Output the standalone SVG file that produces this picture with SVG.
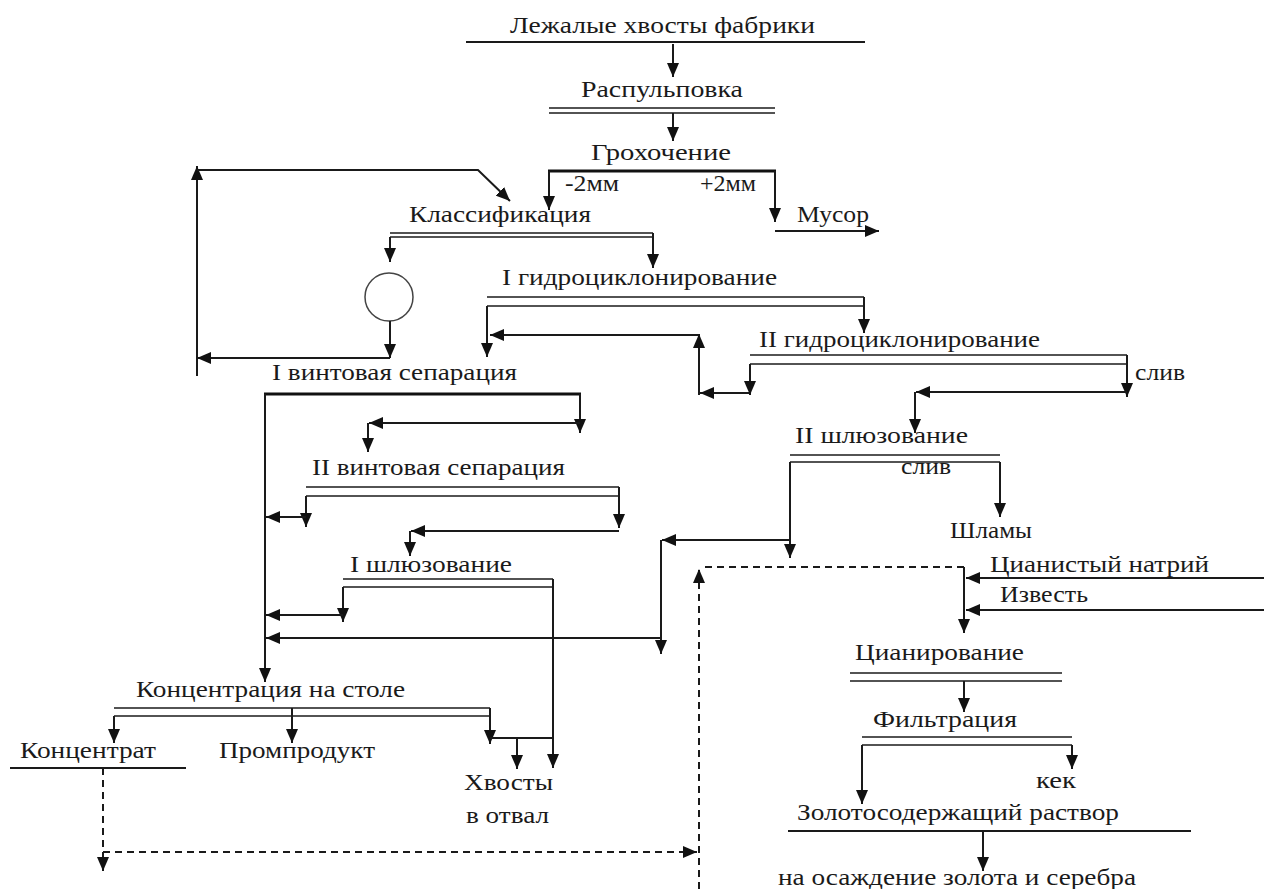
<svg xmlns="http://www.w3.org/2000/svg" width="1264" height="889" viewBox="0 0 1264 889">
  <style>
    text { font-family: "Liberation Serif", "DejaVu Serif", "Noto Serif", serif; font-size: 24px; fill: #1a1a1a; }
    .ln { fill: none; stroke: #1a1a1a; stroke-width: 2; }
    .thick { fill: none; stroke: #111; stroke-width: 3; }
    .dbl { fill: none; stroke: #1a1a1a; stroke-width: 1.6; }
    .dash { fill: none; stroke: #1a1a1a; stroke-width: 2; stroke-dasharray: 7 5; }
    .arr { marker-end: url(#head); }
  </style>
  <defs>
    <marker id="head" markerUnits="userSpaceOnUse" markerWidth="14" markerHeight="12" viewBox="0 0 14 12" refX="14" refY="6" orient="auto">
      <path d="M0,0 L14,6 L0,12 z" fill="#111"/>
    </marker>
  </defs>
  <rect width="1264" height="889" fill="#fff"/>

  <!-- process nodes: label plus its bar -->
  <g id="tailings">
    <text x="510" y="33" textLength="305" lengthAdjust="spacingAndGlyphs">Лежалые хвосты фабрики</text>
    <line class="ln" x1="466" y1="42" x2="865" y2="42"/>
  </g>
  <g id="repulping">
    <text x="581" y="97" textLength="162" lengthAdjust="spacingAndGlyphs">Распульповка</text>
    <line class="dbl" x1="549" y1="108" x2="775" y2="108"/>
    <line class="dbl" x1="549" y1="113" x2="775" y2="113"/>
  </g>
  <g id="screening">
    <text x="591" y="160" textLength="140" lengthAdjust="spacingAndGlyphs">Грохочение</text>
    <line class="thick" x1="548" y1="171" x2="776" y2="171"/>
    <text x="565" y="191" textLength="54" lengthAdjust="spacingAndGlyphs">-2мм</text>
    <text x="700" y="191" textLength="56" lengthAdjust="spacingAndGlyphs">+2мм</text>
  </g>
  <g id="trash">
    <text x="797" y="222" textLength="72" lengthAdjust="spacingAndGlyphs">Мусор</text>
  </g>
  <g id="classification">
    <text x="409" y="222" textLength="182" lengthAdjust="spacingAndGlyphs">Классификация</text>
    <line class="dbl" x1="390" y1="233" x2="653" y2="233"/>
    <line class="dbl" x1="390" y1="237" x2="653" y2="237"/>
  </g>
  <g id="mill">
    <ellipse cx="389" cy="297" rx="24" ry="24" fill="none" stroke="#444" stroke-width="1.5"/>
  </g>
  <g id="hydrocyclone-1">
    <text x="502" y="285" textLength="275" lengthAdjust="spacingAndGlyphs">I гидроциклонирование</text>
    <line class="dbl" x1="487" y1="297" x2="864" y2="297"/>
    <line class="dbl" x1="487" y1="306" x2="864" y2="306"/>
  </g>
  <g id="hydrocyclone-2">
    <text x="759" y="347" textLength="281" lengthAdjust="spacingAndGlyphs">II гидроциклонирование</text>
    <line class="dbl" x1="750" y1="355" x2="1127" y2="355"/>
    <line class="dbl" x1="750" y1="364" x2="1127" y2="364"/>
    <text x="1135" y="380" textLength="50" lengthAdjust="spacingAndGlyphs">слив</text>
  </g>
  <g id="spiral-1">
    <text x="272" y="380" textLength="245" lengthAdjust="spacingAndGlyphs">I винтовая сепарация</text>
    <line class="thick" x1="264" y1="394" x2="581" y2="394"/>
  </g>
  <g id="spiral-2">
    <text x="312" y="475" textLength="253" lengthAdjust="spacingAndGlyphs">II винтовая сепарация</text>
    <line class="dbl" x1="306" y1="487" x2="619" y2="487"/>
    <line class="dbl" x1="306" y1="496" x2="619" y2="496"/>
  </g>
  <g id="sluice-1">
    <text x="350" y="572" textLength="162" lengthAdjust="spacingAndGlyphs">I шлюзование</text>
    <line class="dbl" x1="343" y1="579" x2="553" y2="579"/>
    <line class="dbl" x1="343" y1="587" x2="553" y2="587"/>
  </g>
  <g id="sluice-2">
    <text x="795" y="443" textLength="173" lengthAdjust="spacingAndGlyphs">II шлюзование</text>
    <line class="dbl" x1="790" y1="455" x2="1000" y2="455"/>
    <line class="dbl" x1="790" y1="462" x2="1000" y2="462"/>
    <text x="901" y="474" textLength="50" lengthAdjust="spacingAndGlyphs">слив</text>
  </g>
  <g id="slimes">
    <text x="950" y="538" textLength="82" lengthAdjust="spacingAndGlyphs">Шламы</text>
  </g>
  <g id="reagents">
    <text x="990" y="572" textLength="219" lengthAdjust="spacingAndGlyphs">Цианистый натрий</text>
    <text x="1000" y="602" textLength="88" lengthAdjust="spacingAndGlyphs">Известь</text>
  </g>
  <g id="cyanidation">
    <text x="855" y="660" textLength="169" lengthAdjust="spacingAndGlyphs">Цианирование</text>
    <line class="dbl" x1="850" y1="673" x2="1062" y2="673"/>
    <line class="dbl" x1="850" y1="681" x2="1062" y2="681"/>
  </g>
  <g id="filtration">
    <text x="873" y="727" textLength="144" lengthAdjust="spacingAndGlyphs">Фильтрация</text>
    <line class="dbl" x1="862" y1="737" x2="1072" y2="737"/>
    <line class="dbl" x1="862" y1="745" x2="1072" y2="745"/>
  </g>
  <g id="cake">
    <text x="1036" y="788" textLength="40" lengthAdjust="spacingAndGlyphs">кек</text>
  </g>
  <g id="pregnant-solution">
    <text x="797" y="820" textLength="322" lengthAdjust="spacingAndGlyphs">Золотосодержащий раствор</text>
    <line class="ln" x1="788" y1="831" x2="1191" y2="831"/>
  </g>
  <g id="precipitation">
    <text x="778" y="885" textLength="358" lengthAdjust="spacingAndGlyphs">на осаждение золота и серебра</text>
  </g>
  <g id="table">
    <text x="136" y="697" textLength="269" lengthAdjust="spacingAndGlyphs">Концентрация на столе</text>
    <line class="dbl" x1="114" y1="708" x2="490" y2="708"/>
    <line class="dbl" x1="114" y1="716" x2="490" y2="716"/>
  </g>
  <g id="concentrate">
    <text x="20" y="758" textLength="136" lengthAdjust="spacingAndGlyphs">Концентрат</text>
    <line class="ln" x1="10" y1="768" x2="186" y2="768"/>
  </g>
  <g id="middlings">
    <text x="219" y="758" textLength="156" lengthAdjust="spacingAndGlyphs">Промпродукт</text>
  </g>
  <g id="tails">
    <text x="464" y="790" textLength="89" lengthAdjust="spacingAndGlyphs">Хвосты</text>
    <text x="466" y="823" textLength="83" lengthAdjust="spacingAndGlyphs">в отвал</text>
  </g>

  <!-- flow lines -->
  <g id="connectors">
    <path class="ln arr" d="M673,44 V77"/>
    <path class="ln arr" d="M673,113 V141"/>
    <path class="ln arr" d="M549,171 V210"/>
    <path class="ln arr" d="M775,171 V222"/>
    <path class="ln arr" d="M775,231 H879"/>

    <!-- recycle loop back to classification -->
    <path class="ln arr" d="M197,376 V166"/>
    <path class="ln arr" d="M197,170 H478 L510,201"/>
    <path class="ln arr" d="M390,358 H197"/>

    <path class="ln arr" d="M390,237 V262"/>
    <path class="ln arr" d="M653,233 V268"/>
    <path class="ln arr" d="M390,321 V358"/>

    <path class="ln arr" d="M487,306 V357"/>
    <path class="ln arr" d="M864,297 V333"/>
    <path class="ln arr" d="M699,395 V334"/>
    <path class="ln arr" d="M699,335 H490"/>
    <path class="ln arr" d="M750,393 H700"/>

    <path class="ln arr" d="M750,364 V395"/>
    <path class="ln arr" d="M1127,355 V397"/>
    <path class="ln arr" d="M1127,392 H916"/>
    <path class="ln arr" d="M915,392 V433"/>

    <path class="ln arr" d="M265,394 V682"/>
    <path class="ln arr" d="M580,394 V433"/>
    <path class="ln arr" d="M580,423 H369"/>
    <path class="ln arr" d="M368,423 V452"/>

    <path class="ln arr" d="M306,496 V527"/>
    <path class="ln arr" d="M306,517 H266"/>
    <path class="ln arr" d="M619,487 V528"/>
    <path class="ln arr" d="M619,531 H411"/>
    <path class="ln arr" d="M410,531 V556"/>

    <path class="ln arr" d="M343,587 V622"/>
    <path class="ln arr" d="M343,615 H266"/>
    <path class="ln arr" d="M553,579 V768"/>

    <path class="ln arr" d="M1000,462 V517"/>
    <path class="ln arr" d="M790,462 V558"/>
    <path class="ln arr" d="M790,540 H662"/>
    <path class="ln arr" d="M661,540 V654"/>
    <path class="ln arr" d="M661,638 H266"/>

    <path class="ln arr" d="M1264,578 H966"/>
    <path class="ln arr" d="M1264,610 H966"/>
    <path class="ln arr" d="M964,567 V633"/>
    <path class="dash" d="M964,567 H700"/>
    <path class="dash arr" d="M699,889 V569"/>

    <path class="ln arr" d="M964,681 V712"/>
    <path class="ln arr" d="M1072,745 V769"/>
    <path class="ln arr" d="M862,745 V804"/>
    <path class="ln arr" d="M983,831 V871"/>

    <path class="ln arr" d="M114,716 V743"/>
    <path class="ln arr" d="M292,708 V743"/>
    <path class="ln arr" d="M490,708 V744"/>
    <path class="ln" d="M490,738 H553"/>
    <path class="ln arr" d="M517,738 V769"/>

    <path class="dash arr" d="M103,768 V871"/>
    <path class="dash arr" d="M103,852 H697"/>
  </g>
</svg>
